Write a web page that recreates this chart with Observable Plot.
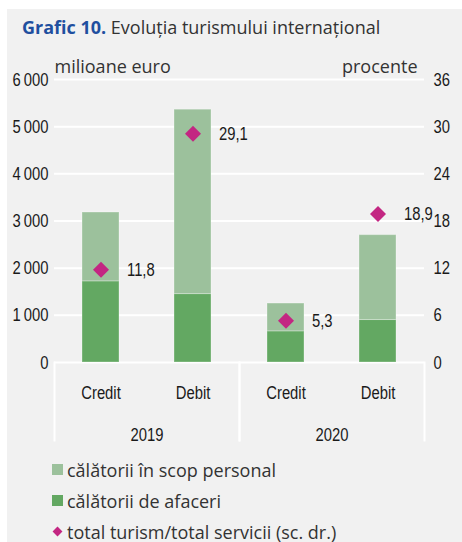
<!DOCTYPE html>
<html>
<head>
<meta charset="utf-8">
<script src="https://cdn.jsdelivr.net/npm/d3@7"></script>
<script src="https://cdn.jsdelivr.net/npm/@observablehq/plot@0.6"></script>
<style>
  body { margin: 0; background: #fff; }
  #panel { position: absolute; left: 7px; top: 9px; width: 455px; height: 533px; background: #f1f1f1; overflow: hidden; }
  #title { position: absolute; left: 15px; top: 8px; font-family: "Open Sans", sans-serif; font-size: 18px; line-height: 20px; color: #333; white-space: nowrap; }
  #title b { color: #1f4f9f; font-weight: 700; }
  #chart { position: absolute; left: 0; top: 40px; }
  #legend { position: absolute; left: 45px; top: 445px; font-family: "Open Sans", sans-serif; font-size: 18px; color: #333; }
  .row { height: 31px; display: flex; align-items: center; white-space: nowrap; }
  .sw { width: 11px; height: 11px; margin-right: 4px; display: inline-block; }
  .dia { width: 7px; height: 7px; margin: 0 6px 0 2px; display: inline-block; transform: rotate(45deg); }
</style>
</head>
<body>
<div id="panel">
  <div id="title"><b>Grafic 10.</b> Evoluția turismului internațional</div>
  <div id="chart"></div>
  <div id="legend"></div>
</div>
<script>
// ---- data ----
const years = ["2019", "2020"];
const categories = ["Credit", "Debit"];
const seriesNames = ["călătorii de afaceri", "călătorii în scop personal"];
const pctName = "total turism/total servicii (sc. dr.)";
// bars, in order: 2019 Credit, 2019 Debit, 2020 Credit, 2020 Debit (milioane euro)
const afaceri  = [1720, 1450, 660, 900];
const personal = [1460, 3910, 590, 1800];
// procente (right axis)
const pct = [11.8, 29.1, 5.3, 18.9];
const euroTicks = [0, 1000, 2000, 3000, 4000, 5000, 6000];
const euroTickLabels = ["0", "1\u2009000", "2\u2009000", "3\u2009000", "4\u2009000", "5\u2009000", "6\u2009000"];
const pctTicks = [0, 6, 12, 18, 24, 30, 36];
const pctTickLabels = ["0", "6", "12", "18", "24", "30", "36"];
const colors = ["#63a862", "#9cc19c"];
const diamondColor = "#c32682";

// ---- build tables ----
const slots = years.flatMap(y => categories.map(c => ({year: y, cat: c})));
const barRows = [];
slots.forEach((s, i) => {
  barRows.push({...s, series: seriesNames[0], value: afaceri[i]});
  barRows.push({...s, series: seriesNames[1], value: personal[i]});
});
const euroMax = euroTicks[euroTicks.length - 1];
const pctMax = pctTicks[pctTicks.length - 1];
const toEuro = p => p * euroMax / pctMax;
const pctRows = slots.map((s, i) => ({...s, pct: pct[i]}));
const fmt = d3.formatLocale({decimal: ",", thousands: "\u2009", grouping: [3], currency: ["", ""]}).format(".1f");

const NARROW = '"Liberation Sans", Arial, sans-serif';
const REG = '"Open Sans", sans-serif';

const W = 455, H = 396, MT = 30, MB = 83, ML = 47, MR = 38;

const chart = Plot.plot({
  width: W, height: H,
  marginTop: MT, marginBottom: MB, marginLeft: ML, marginRight: MR,
  style: {background: "transparent", fontFamily: NARROW, fontSize: "19px", color: "#1a1a1a", overflow: "visible"},
  fx: {domain: years, padding: 0, axis: null},
  x: {domain: categories, paddingInner: 0.6, paddingOuter: 0.3, axis: null},
  y: {domain: [0, euroMax], axis: null},
  color: {domain: seriesNames, range: colors},
  marks: [
    Plot.gridY(euroTicks, {stroke: "#fff", strokeOpacity: 1, strokeWidth: 2}),
    Plot.frame({anchor: "left", stroke: "#fff", strokeWidth: 2, insetTop: H - MT - MB, insetBottom: -78}),
    Plot.frame({anchor: "right", stroke: "#fff", strokeWidth: 2, insetTop: H - MT - MB, insetBottom: -78}),
    Plot.barY(barRows, {fx: "year", x: "cat", y: "value", fill: "series", stroke: "#fff", strokeOpacity: 0.3, strokeWidth: 1}),
    Plot.dot(pctRows, {fx: "year", x: "cat", y: d => toEuro(d.pct), symbol: "diamond2", r: 7.2, fill: diamondColor, stroke: null}),
    Plot.text(pctRows, {fx: "year", x: "cat", y: d => toEuro(d.pct), text: d => fmt(d.pct), dx: 26, textAnchor: "start", fill: "#1a1a1a"}),
    Plot.axisY(euroTicks, {anchor: "left", tickSize: 0, tickPadding: 6, tickFormat: (d, i) => euroTickLabels[i], label: null}),
    Plot.axisY(pctTicks.map(toEuro), {anchor: "right", tickSize: 0, tickPadding: 9, tickFormat: (d, i) => pctTickLabels[i], label: null}),
    Plot.axisX({tickSize: 0, tickPadding: 23, label: null}),
    Plot.axisFx({anchor: "bottom", tickSize: 0, tickPadding: 65, label: null}),
    Plot.text(["milioane euro"], {fx: () => years[0], frameAnchor: "top-left", textAnchor: "start", lineAnchor: "bottom", dy: -7, fontFamily: REG, fontSize: 18, fill: "#333"}),
    Plot.text(["procente"], {fx: () => years[1], frameAnchor: "top-right", textAnchor: "end", lineAnchor: "bottom", dy: -7, dx: -7, fontFamily: REG, fontSize: 18, fill: "#333"})
  ]
});
document.getElementById("chart").appendChild(chart);

// condensed look for the number/category texts (horizontal squeeze about each text's anchor)
chart.querySelectorAll("text").forEach(t => {
  if (t.closest('[font-family*="Open Sans"]')) return;
  const tr = t.getAttribute("transform");
  if (tr) {
    t.setAttribute("transform", tr + " scale(0.78,1)");
  } else {
    const x = +t.getAttribute("x") || 0, y = +t.getAttribute("y") || 0;
    t.removeAttribute("x"); t.removeAttribute("y");
    t.setAttribute("transform", `translate(${x},${y}) scale(0.78,1)`);
  }
});

// ---- legend ----
const legend = document.getElementById("legend");
[[seriesNames[1], colors[1], "sw"], [seriesNames[0], colors[0], "sw"], [pctName, diamondColor, "dia"]].forEach(([t, c, k]) => {
  const row = document.createElement("div");
  row.className = "row";
  const sw = document.createElement("span");
  sw.className = k;
  sw.style.background = c;
  row.appendChild(sw);
  row.appendChild(document.createTextNode(t));
  legend.appendChild(row);
});
</script>
</body>
</html>
